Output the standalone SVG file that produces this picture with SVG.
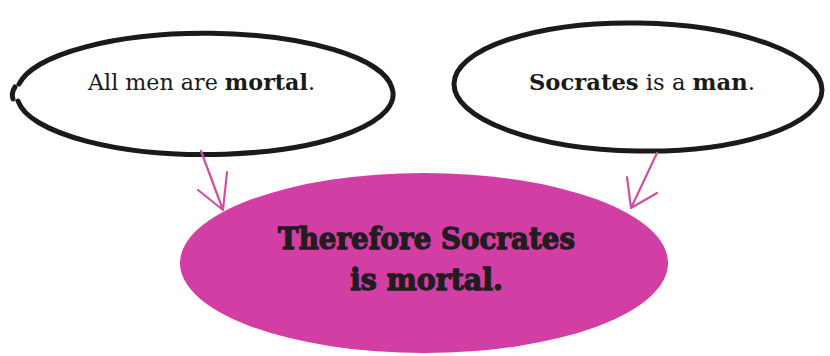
<svg xmlns="http://www.w3.org/2000/svg" width="830" height="356" viewBox="0 0 830 356">
<style>
.bub{fill:#fff;stroke:#1a1a1a;stroke-width:5;stroke-linecap:round}
.t{font-family:"DejaVu Serif","Liberation Serif",serif;font-size:22px;fill:#1a1a1a}
.b{font-weight:bold}
.conn{fill:none;stroke:#d14fa3;stroke-width:2.2;stroke-linecap:round;stroke-linejoin:round}
.main{font-family:"DejaVu Serif","Liberation Serif",serif;font-weight:bold;font-size:30px;fill:#221c20;stroke:#221c20;stroke-width:1.3}
</style>
<rect width="830" height="356" fill="#fff"/>
<g id="premise1">
<path class="bub" d="M18,101 A188,60 0 0 0 392,88 A188,60 0 0 0 19,84"/>
<path class="bub" d="M13,99 Q11,93 15,87" stroke-width="3"/>
<text class="t" x="88" y="90" textLength="227" lengthAdjust="spacingAndGlyphs">All men are <tspan class="b">mortal</tspan>.</text>
</g>
<g id="premise2">
<ellipse class="bub" cx="638" cy="87" rx="184" ry="64" transform="rotate(1 638 87)"/>
<text class="t" x="529" y="90" textLength="226" lengthAdjust="spacingAndGlyphs"><tspan class="b">Socrates</tspan> is a <tspan class="b">man</tspan>.</text>
</g>
<g id="conclusion">
<ellipse cx="424" cy="263" rx="244" ry="90" fill="#d33ea5"/>
<text class="main" x="278" y="249" textLength="297" lengthAdjust="spacingAndGlyphs">Therefore Socrates</text>
<text class="main" x="350" y="290" textLength="153" lengthAdjust="spacingAndGlyphs">is mortal.</text>
</g>
<g id="connectors">
<path class="conn" d="M201,151 L223,210 M198,190 L223,210 L227,172"/>
<path class="conn" d="M657,153 L631,208 M627,177 L631,208 L657,193"/>
</g>
</svg>
